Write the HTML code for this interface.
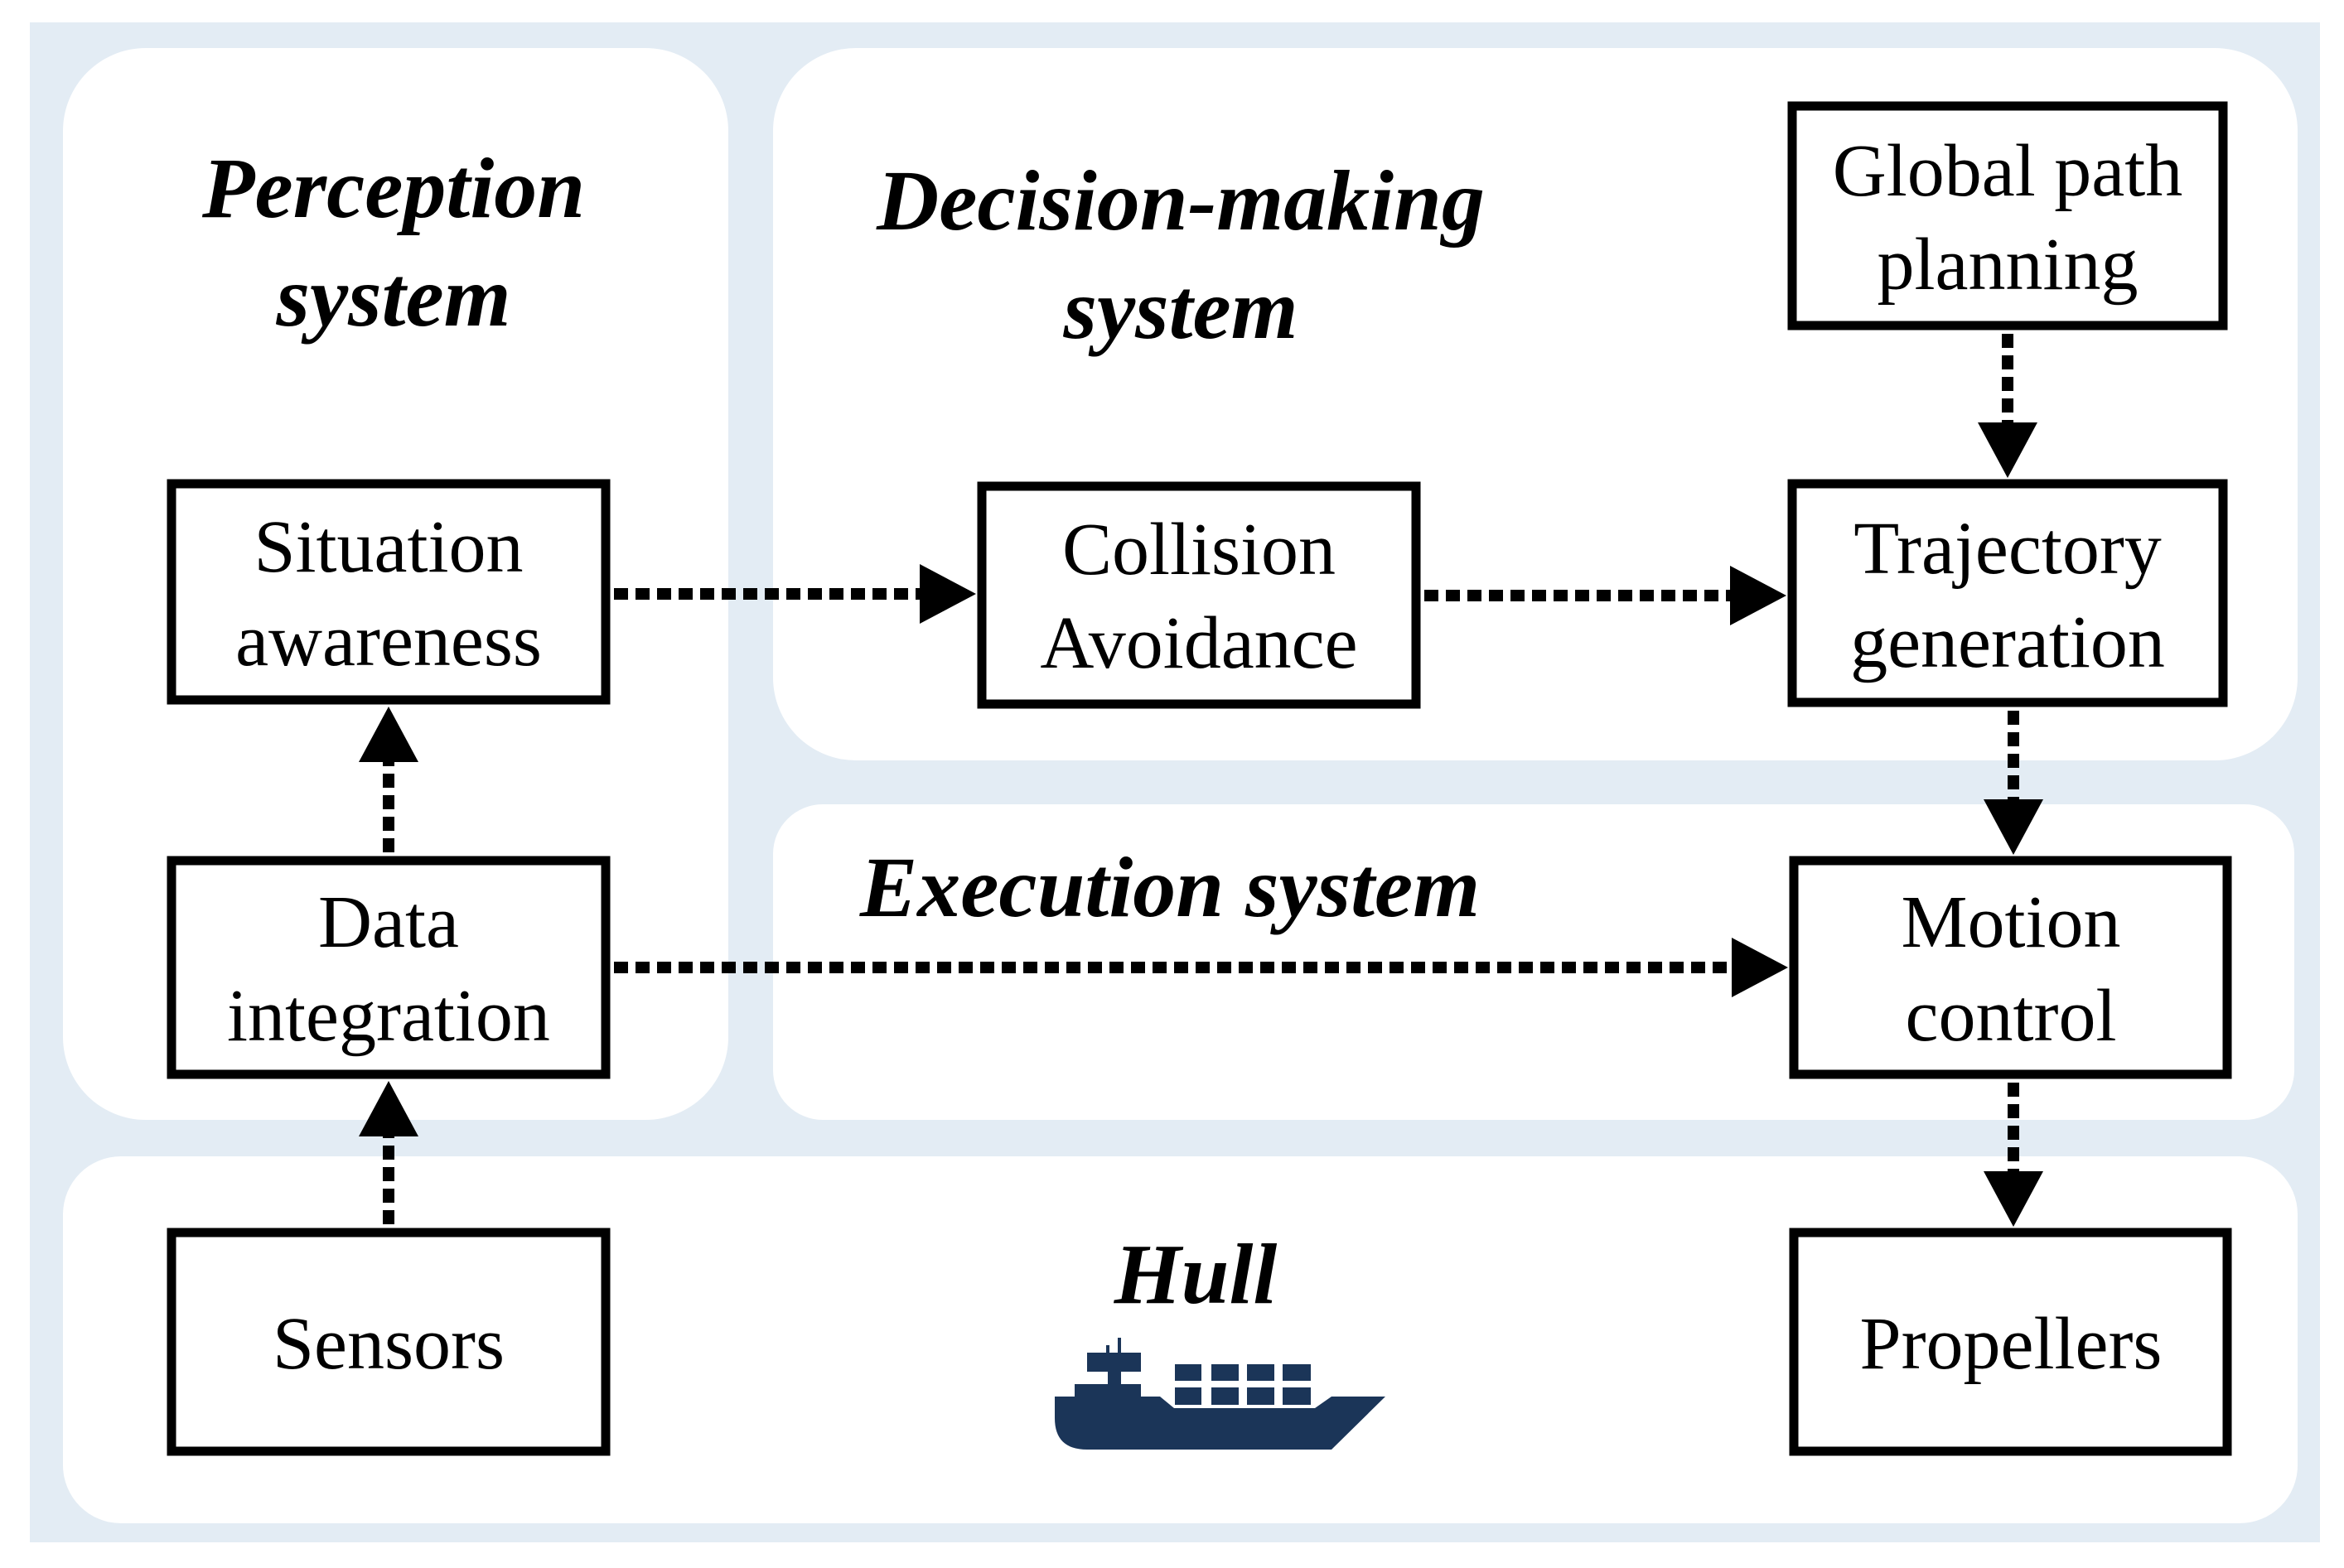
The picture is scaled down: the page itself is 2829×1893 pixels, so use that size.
<!DOCTYPE html>
<html><head><meta charset="utf-8"><style>
html,body{margin:0;padding:0;background:#fff;}
svg{display:block;}
.t{font-family:"Liberation Serif",serif;font-size:90px;fill:#000;text-anchor:middle;}
.h{font-family:"Liberation Serif",serif;font-size:104px;font-weight:bold;font-style:italic;fill:#000;text-anchor:middle;}
.b{fill:#fff;stroke:#000;stroke-width:11;}
.d{stroke:#000;stroke-width:14;stroke-dasharray:17 9;fill:none;}
</style></head><body>
<svg width="2829" height="1893" viewBox="0 0 2829 1893" xmlns="http://www.w3.org/2000/svg">
<rect x="0" y="0" width="2829" height="1893" fill="#fff"/>
<rect x="36" y="27" width="2764" height="1835" fill="#e3ecf4"/>
<rect x="76" y="58" width="803" height="1294" rx="100" fill="#fff"/>
<rect x="933" y="58" width="1840" height="860" rx="100" fill="#fff"/>
<rect x="933" y="971" width="1836" height="381" rx="60" fill="#fff"/>
<rect x="76" y="1396" width="2697" height="443" rx="70" fill="#fff"/>

<text class="h" x="475" y="262">Perception</text>
<text class="h" x="475" y="393">system</text>
<text class="h" x="1425" y="277">Decision-making</text>
<text class="h" x="1425" y="408">system</text>
<text class="h" x="1412" y="1106">Execution system</text>
<text class="h" x="1443" y="1573">Hull</text>

<!-- connectors -->
<line class="d" x1="741" y1="717" x2="1112" y2="717"/>
<polygon points="1110,681 1178,717 1110,753"/>
<line class="d" x1="1719" y1="719" x2="2090" y2="719"/>
<polygon points="2088,683 2156,719 2088,755"/>
<line class="d" x1="741" y1="1168" x2="2092" y2="1168"/>
<polygon points="2090,1132 2158,1168 2090,1204"/>
<line class="d" x1="2423" y1="403" x2="2423" y2="512"/>
<polygon points="2387,510 2459,510 2423,577"/>
<line class="d" x1="2430" y1="858" x2="2430" y2="967"/>
<polygon points="2394,965 2466,965 2430,1032"/>
<line class="d" x1="2430" y1="1307" x2="2430" y2="1416"/>
<polygon points="2394,1414 2466,1414 2430,1481"/>
<line class="d" x1="469" y1="1029" x2="469" y2="918"/>
<polygon points="433,920 505,920 469,853"/>
<line class="d" x1="469" y1="1478" x2="469" y2="1370"/>
<polygon points="433,1372 505,1372 469,1305"/>

<!-- boxes -->
<rect class="b" x="207" y="584" width="524" height="261"/>
<text class="t" x="469" y="690">Situation</text>
<text class="t" x="469" y="803">awareness</text>
<rect class="b" x="207" y="1039" width="524" height="258"/>
<text class="t" x="469" y="1143">Data</text>
<text class="t" x="469" y="1256">integration</text>
<rect class="b" x="207" y="1488" width="524" height="264"/>
<text class="t" x="469" y="1652">Sensors</text>
<rect class="b" x="1185" y="587" width="524" height="263"/>
<text class="t" x="1447" y="693">Collision</text>
<text class="t" x="1447" y="806">Avoidance</text>
<rect class="b" x="2163" y="128" width="520" height="265"/>
<text class="t" x="2423" y="236">Global path</text>
<text class="t" x="2423" y="349">planning</text>
<rect class="b" x="2163" y="584" width="520" height="264"/>
<text class="t" x="2423" y="692">Trajectory</text>
<text class="t" x="2423" y="805">generation</text>
<rect class="b" x="2165" y="1039" width="523" height="258"/>
<text class="t" x="2427" y="1143">Motion</text>
<text class="t" x="2427" y="1256">control</text>
<rect class="b" x="2165" y="1488" width="523" height="264"/>
<text class="t" x="2427" y="1652">Propellers</text>

<!-- ship -->
<g fill="#1b3558">
<path d="M1273,1686 L1400,1686 L1417,1700 L1587,1700 L1607,1686 L1672,1686 L1607,1750 L1312,1750 Q1273,1750 1273,1712 Z"/>
<rect x="1297" y="1671" width="80" height="16"/>
<rect x="1337" y="1655" width="16" height="18"/>
<rect x="1312" y="1633" width="65" height="23"/>
<rect x="1349" y="1615" width="4" height="19"/>
<rect x="1335" y="1624" width="4" height="10"/>
<rect x="1418" y="1647" width="32" height="20"/>
<rect x="1462" y="1647" width="33" height="20"/>
<rect x="1505" y="1647" width="33" height="20"/>
<rect x="1548" y="1647" width="34" height="20"/>
<rect x="1418" y="1675" width="32" height="21"/>
<rect x="1462" y="1675" width="33" height="21"/>
<rect x="1505" y="1675" width="33" height="21"/>
<rect x="1548" y="1675" width="34" height="21"/>
</g>
</svg>
</body></html>
